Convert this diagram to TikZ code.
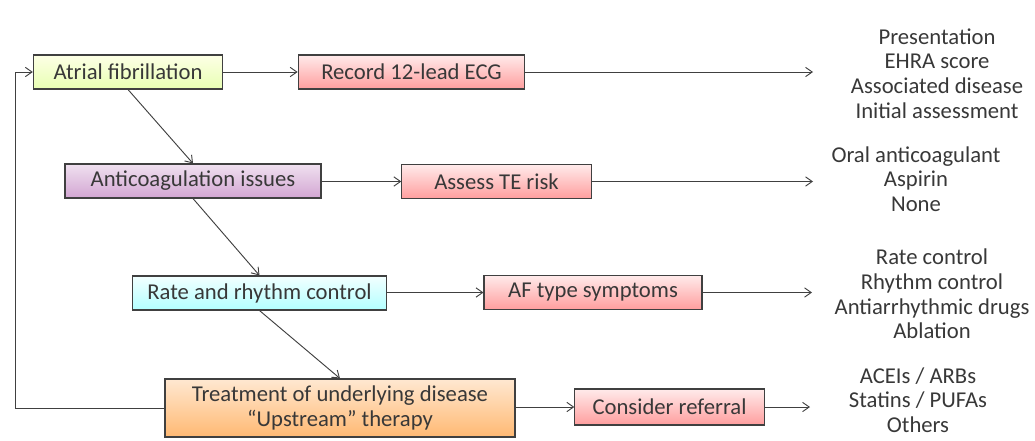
\documentclass[tikz,border=0pt]{standalone}
\usepackage{fontspec}
\setmainfont{Carlito}
\usepackage{tikz}
\usetikzlibrary{positioning,arrows.meta}
\usepackage{xcolor}

\definecolor{txtgray}{HTML}{383838}
\definecolor{edgegray}{HTML}{404040}

\begin{document}
\begin{tikzpicture}[
        x=0.75pt,
        y=-0.75pt,
        >={Straight Barb[length=5pt,width=7pt]},
        box/.style={
            rectangle,
            draw=edgegray,
            line width=0.8pt,
            align=center,
            minimum height=25.5pt,
            inner sep=2pt,
            text=txtgray,
            font=\fontsize{17}{18.5}\selectfont
        },
        greenbox/.style={box, top color=green!8!yellow!10, bottom color=green!30!yellow!30!white},
        redbox/.style={box, top color=red!8, bottom color=red!38},
        purplebox/.style={box, top color=violet!12, bottom color=violet!35},
        bluebox/.style={box, top color=cyan!5, bottom color=cyan!30},
        orangebox/.style={box, top color=orange!18, bottom color=orange!55},
        outcome/.style={align=center, text=txtgray, inner sep=0pt,
            font=\fontsize{17}{18.5}\selectfont},
        line/.style={->, line width=0.7pt, draw=edgegray}
    ]
    \useasboundingbox (0,0) rectangle (1035,440);

    % LEFT COLUMN: MANAGEMENT STEPS
    \node[greenbox, minimum width=142pt] (af) at (128,72) {Atrial fibrillation};
    \node[purplebox, minimum width=192pt] (anticoag) at (193,181) {Anticoagulation issues};
    \node[bluebox, minimum width=191pt] (rate) at (259.5,293) {Rate and rhythm control};
    \node[orangebox, minimum width=262.5pt, minimum height=43.5pt] (treat) at (340,408)
        {Treatment of underlying disease\\``Upstream'' therapy};

    % MIDDLE COLUMN: ACTIONS
    \node[redbox, minimum width=170pt] (ecg) at (411.5,72) {Record 12-lead ECG};
    \node[redbox, minimum width=142pt] (terisk) at (496.5,181.5) {Assess TE risk};
    \node[redbox, minimum width=163.5pt] (aftype) at (593,292.5) {AF type symptoms};
    \node[redbox, minimum width=142pt, minimum height=27pt] (referral) at (669.5,407) {Consider referral};

    % RIGHT COLUMN: OUTCOMES
    \node[outcome] (out1) at (937,73.5) {Presentation\\EHRA score\\Associated disease\\Initial assessment};
    \node[outcome] (out2) at (916,179) {Oral anticoagulant\\Aspirin\\None};
    \node[outcome] (out3) at (932,294) {Rate control\\Rhythm control\\Antiarrhythmic drugs\\Ablation};
    \node[outcome] (out4) at (918,400) {ACEIs / ARBs\\Statins / PUFAs\\Others};

    \coordinate (end1) at (813,72);
    \coordinate (end2) at (813,181.5);
    \coordinate (end3) at (812,292.5);
    \coordinate (end4) at (810,407);
    \coordinate (loop) at (15,408);

    % ============================================================
    % CONNECTIONS: Steps to actions to outcomes
    % ============================================================
    \draw[line] (af) -- (ecg);
    \draw[line] (ecg) -- (end1);
    \draw[line] (anticoag.east |- terisk) -- (terisk);
    \draw[line] (terisk) -- (end2);
    \draw[line] (rate.east |- aftype) -- (aftype);
    \draw[line] (aftype) -- (end3);
    \draw[line] (treat.east |- referral) -- (referral);
    \draw[line] (referral) -- (end4);

    % ============================================================
    % CONNECTIONS: Step sequence and feedback loop
    % ============================================================
    \draw[line] (af.south) -- (anticoag.north);
    \draw[line] (anticoag.south) -- (rate.north);
    \draw[line] (rate.south) -- (treat.north);
    \draw[line] (treat.west) -- (treat.west -| loop) |- (af.west);

\end{tikzpicture}
\end{document}
